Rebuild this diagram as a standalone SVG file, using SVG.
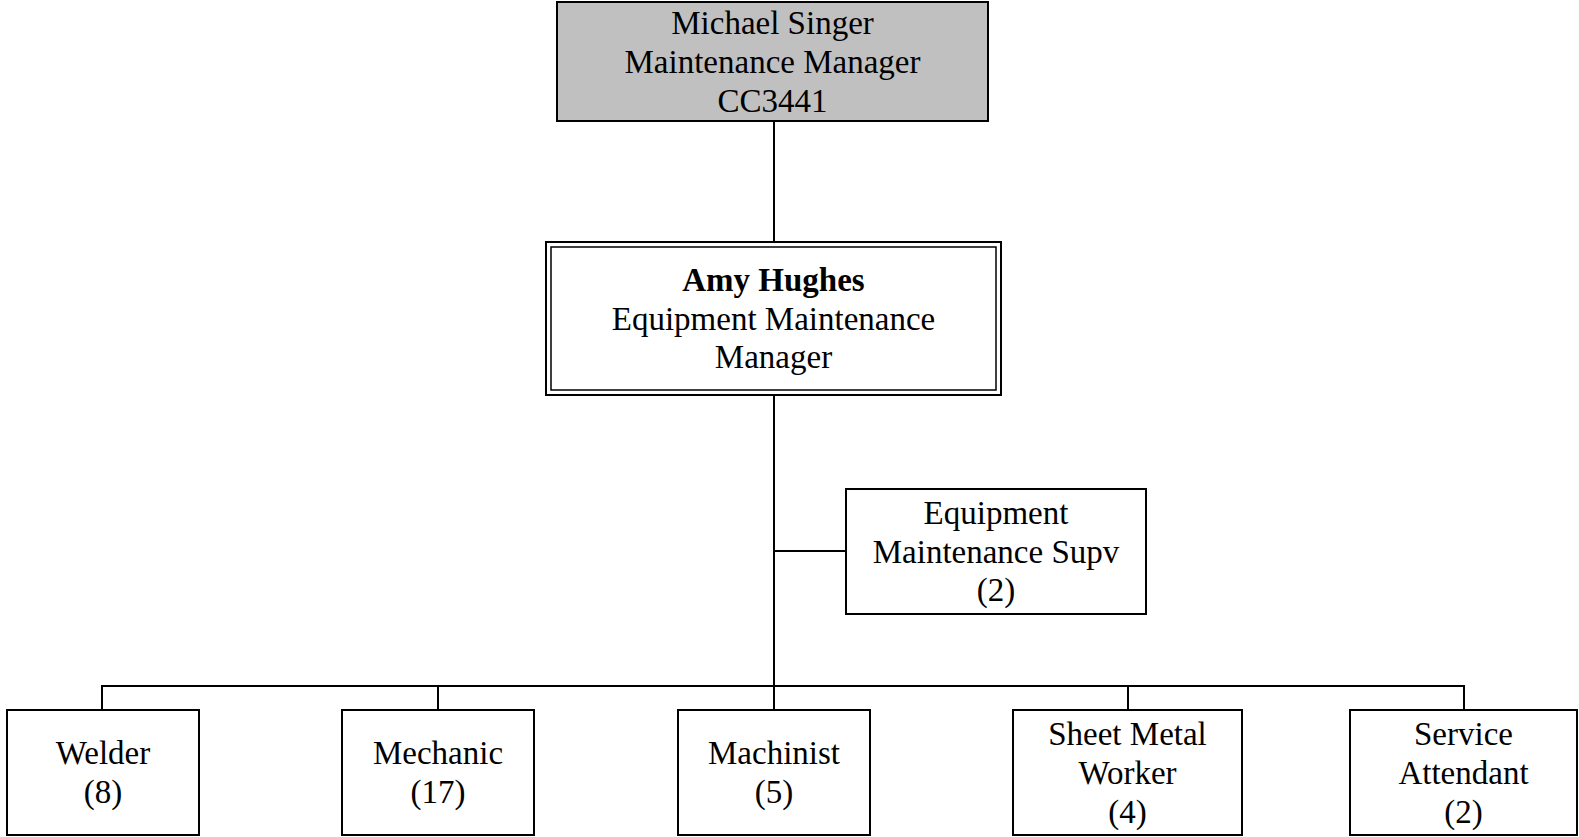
<svg xmlns="http://www.w3.org/2000/svg" width="1579" height="837" viewBox="0 0 1579 837">
  <style>
    .box { fill: #ffffff; stroke: #000000; stroke-width: 2; }
    .grey { fill: #c0c0c0; stroke: #000000; stroke-width: 2; }
    .dbl { fill: none; stroke: #000000; stroke-width: 1.5; }
    .lbl { font-family: "Liberation Serif", "Times New Roman", serif; font-size: 33px; fill: #000000; text-anchor: middle; }
    .bold { font-weight: bold; }
    .conn { stroke: #000000; stroke-width: 2; fill: none; }
  </style>
  <rect width="1579" height="837" fill="#ffffff"/>
  <g id="connectors">
    <line class="conn" x1="774" y1="121" x2="774" y2="242"/>
    <line class="conn" x1="774" y1="395" x2="774" y2="686"/>
    <line class="conn" x1="774" y1="551" x2="846" y2="551"/>
    <line class="conn" x1="101" y1="686" x2="1465" y2="686"/>
    <line class="conn" x1="102" y1="686" x2="102" y2="710"/>
    <line class="conn" x1="438" y1="686" x2="438" y2="710"/>
    <line class="conn" x1="774" y1="686" x2="774" y2="710"/>
    <line class="conn" x1="1128" y1="686" x2="1128" y2="710"/>
    <line class="conn" x1="1464" y1="686" x2="1464" y2="710"/>
  </g>
  <g id="michael-singer">
    <rect class="grey" x="557" y="2" width="431" height="119"/>
    <text class="lbl" x="772.5" y="34">Michael Singer</text>
    <text class="lbl" x="772.5" y="73">Maintenance Manager</text>
    <text class="lbl" x="772.5" y="112">CC3441</text>
  </g>
  <g id="amy-hughes">
    <rect class="box" x="546" y="242" width="455" height="153"/>
    <rect class="dbl" x="551" y="247" width="445" height="143"/>
    <text class="lbl bold" x="773.5" y="291">Amy Hughes</text>
    <text class="lbl" x="773.5" y="330">Equipment Maintenance</text>
    <text class="lbl" x="773.5" y="368">Manager</text>
  </g>
  <g id="supv">
    <rect class="box" x="846" y="489" width="300" height="125"/>
    <text class="lbl" x="996" y="524">Equipment</text>
    <text class="lbl" x="996" y="563">Maintenance Supv</text>
    <text class="lbl" x="996" y="601">(2)</text>
  </g>
  <g id="welder">
    <rect class="box" x="7" y="710" width="192" height="125"/>
    <text class="lbl" x="103" y="764">Welder</text>
    <text class="lbl" x="103" y="803">(8)</text>
  </g>
  <g id="mechanic">
    <rect class="box" x="342" y="710" width="192" height="125"/>
    <text class="lbl" x="438" y="764">Mechanic</text>
    <text class="lbl" x="438" y="803">(17)</text>
  </g>
  <g id="machinist">
    <rect class="box" x="678" y="710" width="192" height="125"/>
    <text class="lbl" x="774" y="764">Machinist</text>
    <text class="lbl" x="774" y="803">(5)</text>
  </g>
  <g id="sheet-metal-worker">
    <rect class="box" x="1013" y="710" width="229" height="125"/>
    <text class="lbl" x="1127.5" y="745">Sheet Metal</text>
    <text class="lbl" x="1127.5" y="784">Worker</text>
    <text class="lbl" x="1127.5" y="823">(4)</text>
  </g>
  <g id="service-attendant">
    <rect class="box" x="1350" y="710" width="227" height="125"/>
    <text class="lbl" x="1463.5" y="745">Service</text>
    <text class="lbl" x="1463.5" y="784">Attendant</text>
    <text class="lbl" x="1463.5" y="823">(2)</text>
  </g>
</svg>
